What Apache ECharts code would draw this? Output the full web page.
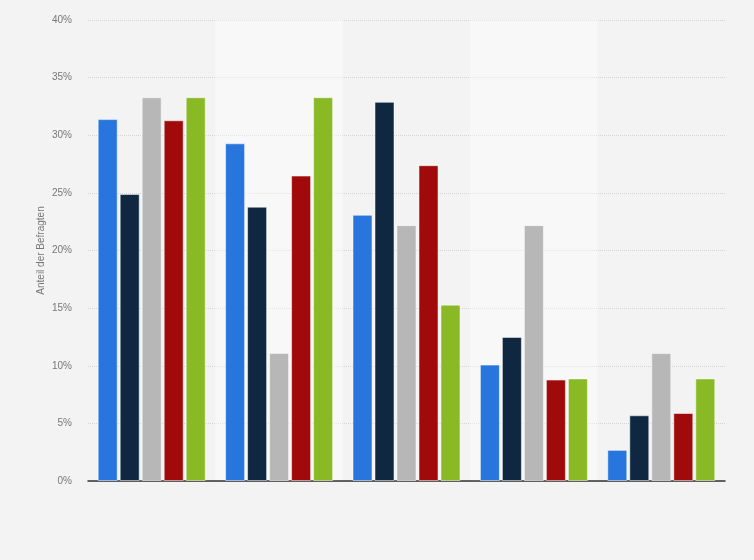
<!DOCTYPE html>
<html>
<head>
<meta charset="utf-8">
<script src="https://cdn.jsdelivr.net/npm/echarts@6/dist/echarts.min.js"></script>
<style>
  html, body { margin: 0; padding: 0; background: #f3f3f3; }
  #chart { width: 754px; height: 560px; }
</style>
</head>
<body>
<div id="chart"></div>
<script>
// groups have no visible labels in the original
const categories = ['', ' ', '  ', '   ', '    '];
const seriesBlue = [31.4, 29.3, 23.1, 10.1, 2.7];
const seriesNavy = [24.9, 23.8, 32.9, 12.5, 5.7];
const seriesGray = [33.3, 11.1, 22.2, 22.2, 11.1];
const seriesRed = [31.3, 26.5, 27.4, 8.8, 5.9];
const seriesGreen = [33.3, 33.3, 15.3, 8.9, 8.9];
const yTicks = [0, 5, 10, 15, 20, 25, 30, 35, 40];

const colors = ['#2876dd', '#0f2741', '#b7b7b7', '#a10a0a', '#89b925'];
const allSeries = [seriesBlue, seriesNavy, seriesGray, seriesRed, seriesGreen];

const chart = echarts.init(document.getElementById('chart'));
window.addEventListener('resize', chart.resize);

chart.setOption({
    backgroundColor: '#f3f3f3',
    animation: false,
    grid: { left: 88, right: 29, top: 20, bottom: 79 },
    xAxis: {
        type: 'category',
        data: categories,
        axisLine: { lineStyle: { color: '#333', width: 1.5 } },
        axisTick: { show: false },
        axisLabel: { show: false },
        splitArea: {
            show: true,
            areaStyle: { color: ['rgba(0,0,0,0)', 'rgba(255,255,255,0.4)'] },
        },
    },
    yAxis: {
        type: 'value',
        min: yTicks[0],
        max: yTicks[yTicks.length - 1],
        interval: 5,
        name: 'Anteil der Befragten',
        nameLocation: 'middle',
        nameGap: 42,
        nameMoveOverlap: false,
        nameTextStyle: { color: '#777', fontSize: 10, fontFamily: 'Arial, Liberation Sans, sans-serif' },
        axisLine: { show: false },
        axisTick: { show: false },
        axisLabel: {
            color: '#777',
            fontSize: 10,
            margin: 16,
            fontFamily: 'Arial, Liberation Sans, sans-serif',
            formatter: '{value}%',
        },
        splitLine: { lineStyle: { color: '#d4d4d4', type: [1, 1], width: 1 } },
    },
    series: allSeries.map((data, i) => ({
        type: 'bar',
        data: data,
        barWidth: 20,
        barGap: '10%',
        itemStyle: {
            color: colors[i],
            borderColor: 'rgba(255,255,255,0.5)',
            borderWidth: 1,
        },
    })),
});
</script>
</body>
</html>
